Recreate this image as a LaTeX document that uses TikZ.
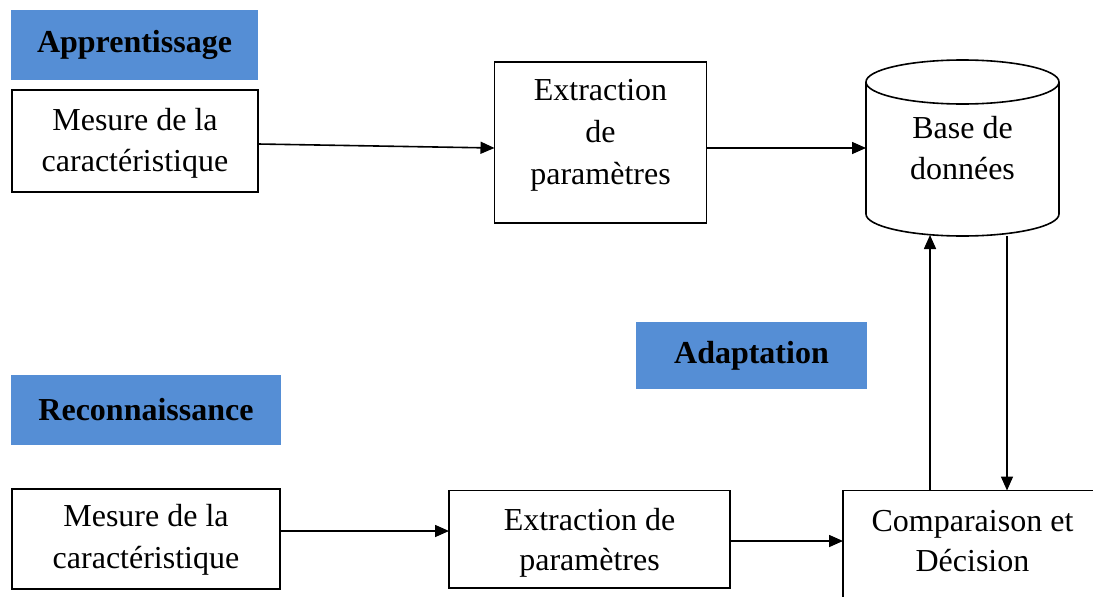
\documentclass[tikz,border=0pt]{standalone}
\usepackage{fontspec}
\setmainfont{Liberation Serif}
\usetikzlibrary{arrows.meta}
\definecolor{tagblue}{RGB}{85,142,213}
% centred block of lines: #1 vertical offset, #2 line spacing, #3 lines
\newcommand\linesblock[3]{\raisebox{#1}[\height][\depth]{\fontsize{32}{#2}\selectfont
  \begin{tabular}{@{}c@{}}#3\end{tabular}}}
\begin{document}
\begin{tikzpicture}[x=1pt,y=-1pt,
  box/.style={draw, line width=1.6pt, inner sep=0pt, outer sep=0pt,
              font=\fontsize{32}{41}\selectfont},
  plain/.style={inner sep=0pt, outer sep=0pt,
              font=\fontsize{32}{41}\selectfont},
  tag/.style={fill=tagblue, inner sep=0pt, outer sep=0pt,
              font=\bfseries\fontsize{32}{40}\selectfont},
  arr/.style={line width=1.6pt, -{Triangle[length=14pt,width=12pt]}},
  wire/.style={line width=1.6pt}]
\useasboundingbox (0,0) rectangle (1093,597);
\clip (0,0) rectangle (1093,597);
\fill[white] (0,0) rectangle (1093,597);

% learning stage
\node[tag, minimum width=247pt, minimum height=70pt] (app) at (134.5,45) {Apprentissage};
\node[box, minimum width=246pt, minimum height=102pt] (m1) at (135,141)
  {\linesblock{-1.3pt}{41}{Mesure de la\\caractéristique}};
\node[box, minimum width=212pt, minimum height=161pt] (ex1) at (600.5,142.5)
  {\linesblock{8.7pt}{42}{Extraction\\de\\paramètres}};
\node[plain, minimum width=193pt, minimum height=176pt] (db) at (962.5,148)
  {\linesblock{-2.9pt}{41.5}{Base de\\données}};
% database cylinder
\draw[wire] ([yshift=-22pt]db.north) ellipse [x radius=96.5pt, y radius=22pt];
\draw[wire] ([yshift=-22pt]db.north west) -- ([yshift=22pt]db.south west)
  arc[start angle=180, end angle=360, x radius=96.5pt, y radius=22pt]
  -- ([yshift=-22pt]db.north east);

% adaptation
\node[tag, minimum width=231pt, minimum height=67pt] (adp) at (751.5,355.5) {Adaptation};

% recognition stage
\node[tag, minimum width=270pt, minimum height=70pt] (rec) at (146,410) {Reconnaissance};
\node[box, minimum width=268pt, minimum height=100pt] (m2) at (146,539)
  {\linesblock{-0.2pt}{41.5}{Mesure de la\\caractéristique}};
\node[box, minimum width=281pt, minimum height=97.5pt] (ex2) at (589.5,539.3)
  {\linesblock{-3.4pt}{40}{Extraction de\\paramètres}};
\node[plain, minimum width=259pt, minimum height=102pt] (cmp) at (972.5,541.5)
  {\linesblock{-2.2pt}{40}{Comparaison et\\Décision}};
\draw[wire] (cmp.north west) rectangle ([yshift=-40pt]cmp.south east);

% connectors
\draw[arr] ([yshift=-3pt]m1.east) -- ([yshift=-5.5pt]ex1.west);
\draw[arr] ([yshift=-5.5pt]ex1.east) -- ([yshift=-5.5pt]ex1.east -| db.west);
\draw[arr] ([yshift=8pt]m2.east) -- ([yshift=8pt]m2.east -| ex2.west);
\draw[arr] ([yshift=-1.7pt]ex2.east) -- ([yshift=-1.7pt]ex2.east -| cmp.west);
\draw[arr] ([xshift=-42.5pt]cmp.north) -- ([xshift=-42.5pt,yshift=1pt]cmp.north |- db.south);
\draw[arr] ([xshift=44.5pt]db.south) -- ([xshift=44.5pt]db.south |- cmp.north);
\end{tikzpicture}
\end{document}
